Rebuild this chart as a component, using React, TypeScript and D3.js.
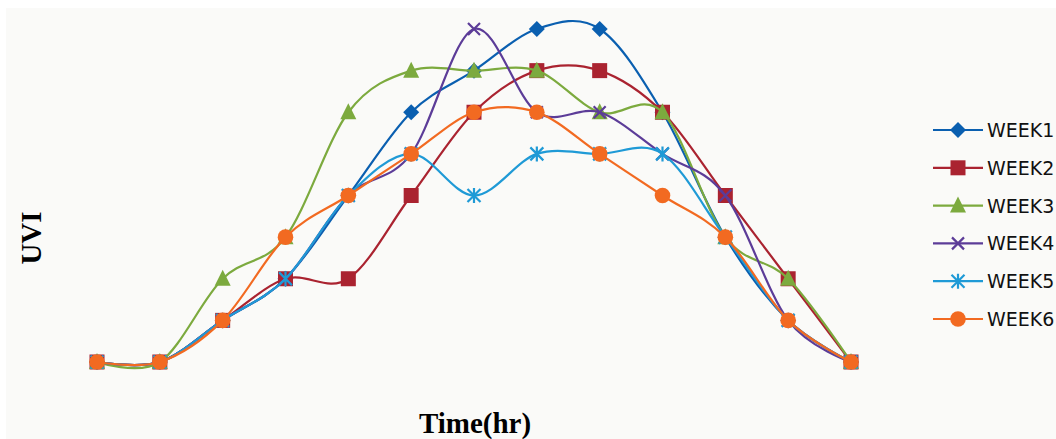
import React from "react";
import * as d3 from "d3";

const hours = [0, 1, 2, 3, 4, 5, 6, 7, 8, 9, 10, 11, 12];
const week1 = [0, 0, 1, 2, 4, 6, 7, 8, 8, 6, 3, 1, 0];
const week2 = [0, 0, 1, 2, 2, 4, 6, 7, 7, 6, 4, 2, 0];
const week3 = [0, 0, 2, 3, 6, 7, 7, 7, 6, 6, 3, 2, 0];
const week4 = [0, 0, 1, 2, 4, 5, 8, 6, 6, 5, 4, 1, 0];
const week5 = [0, 0, 1, 2, 4, 5, 4, 5, 5, 5, 3, 1, 0];
const week6 = [0, 0, 1, 3, 4, 5, 6, 6, 5, 4, 3, 1, 0];
const seriesNames = ["WEEK1", "WEEK2", "WEEK3", "WEEK4", "WEEK5", "WEEK6"];
const colors = ["#0a5fb0", "#aa2330", "#7caa3e", "#5c3c98", "#1f9ad6", "#f26a21"];
const markers = ["diamond", "square", "triangle", "x", "star", "circle"];

const allSeries = [week1, week2, week3, week4, week5, week6];

function Marker({ type, x, y, color }: { type: string; x: number; y: number; color: string }) {
  if (type === "diamond") {
    const s = 8;
    return <path d={`M${x},${y - s}L${x + s},${y}L${x},${y + s}L${x - s},${y}Z`} fill={color} />;
  }
  if (type === "square") {
    const s = 7.5;
    return <rect x={x - s} y={y - s} width={2 * s} height={2 * s} fill={color} />;
  }
  if (type === "triangle") {
    const s = 8;
    return <path d={`M${x},${y - s - 1}L${x + s},${y + s - 1}L${x - s},${y + s - 1}Z`} fill={color} />;
  }
  if (type === "x") {
    const s = 6;
    return (
      <path d={`M${x - s},${y - s}L${x + s},${y + s}M${x - s},${y + s}L${x + s},${y - s}`} stroke={color} strokeWidth={2.2} fill="none" />
    );
  }
  if (type === "star") {
    const s = 6.5;
    return (
      <path
        d={`M${x - s},${y - s}L${x + s},${y + s}M${x - s},${y + s}L${x + s},${y - s}M${x},${y - s - 1}L${x},${y + s + 1}`}
        stroke={color}
        strokeWidth={2.2}
        fill="none"
      />
    );
  }
  return <circle cx={x} cy={y} r={7.8} fill={color} />;
}

export default function App() {
  const width = 1056;
  const height = 439;
  const x = d3.scaleLinear().domain([0, 12]).range([97, 851]);
  const y = d3.scaleLinear().domain([0, 8]).range([362, 29]);
  const line = d3
    .line<number>()
    .x((_, i) => x(hours[i]))
    .y((d) => y(d))
    .curve(d3.curveCardinal.tension(0));

  const legendY = d3.scalePoint<string>().domain(seriesNames).range([130, 319]);

  return (
    <svg width={width} height={height} style={{ position: "absolute", left: 0, top: 0 }}>
      <rect x={0} y={0} width={width} height={height} fill="#ffffff" />
      <rect x={6} y={8} width={width - 6} height={height - 8} fill="#fafaf8" />
      {allSeries.map((s, k) => (
        <g key={seriesNames[k]}>
          <path d={line(s) || ""} fill="none" stroke={colors[k]} strokeWidth={2.2} />
          {s.map((v, i) => (
            <Marker key={i} type={markers[k]} x={x(hours[i])} y={y(v)} color={colors[k]} />
          ))}
        </g>
      ))}
      {seriesNames.map((n, k) => {
        const ly = legendY(n) as number;
        return (
          <g key={n}>
            <line x1={933} x2={983} y1={ly} y2={ly} stroke={colors[k]} strokeWidth={2.2} />
            <Marker type={markers[k]} x={958} y={ly} color={colors[k]} />
            <text x={987} y={ly + 7} fontFamily="'DejaVu Sans', sans-serif" fontSize={19} fill="#111">
              {n}
            </text>
          </g>
        );
      })}
      <text
        transform="translate(41,238) rotate(-90)"
        textAnchor="middle"
        fontFamily="'Liberation Serif', 'Times New Roman', serif"
        fontWeight="bold"
        fontSize={29}
        fill="#000"
      >
        UVI
      </text>
      <text
        x={475}
        y={433}
        textAnchor="middle"
        fontFamily="'Liberation Serif', 'Times New Roman', serif"
        fontWeight="bold"
        fontSize={29}
        fill="#000"
      >
        Time(hr)
      </text>
    </svg>
  );
}
